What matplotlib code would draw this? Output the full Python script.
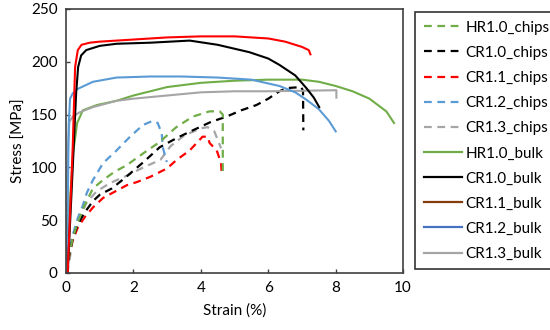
import matplotlib.pyplot as plt
from matplotlib.lines import Line2D

plt.rcParams['font.family'] = ['Lato', 'DejaVu Sans']

# chips (dashed)
hr10_chips_x = [0.0, 0.1, 0.2, 0.35, 0.55, 0.8, 1.1, 1.45, 1.8, 2.28, 2.78, 3.27, 3.76, 4.26, 4.56, 4.65, 4.65]
hr10_chips_y = [0, 18, 33, 48, 64, 80, 88, 96, 102, 113, 124, 138, 148, 153, 153, 150, 93]
cr10_chips_x = [0.0, 0.1, 0.2, 0.35, 0.55, 0.8, 1.0, 1.36, 1.75, 2.3, 2.78, 3.3, 3.76, 4.3, 4.76, 5.2, 5.65, 6.0, 6.33, 6.54, 6.98, 7.03, 7.04]
cr10_chips_y = [0, 18, 33, 46, 57, 68, 74, 80, 90, 105, 119, 128, 135, 143, 148, 154, 159, 165, 172, 175, 176, 172, 135]
cr11_chips_x = [0.0, 0.1, 0.2, 0.35, 0.56, 0.8, 1.1, 1.45, 1.8, 2.1, 2.5, 3.0, 3.28, 3.67, 4.05, 4.2, 4.26, 4.47, 4.6, 4.62]
cr11_chips_y = [0, 17, 31, 43, 53, 62, 71, 77, 83, 86, 91, 99, 107, 116, 129, 129, 123, 116, 104, 92]
cr12_chips_x = [0.0, 0.1, 0.2, 0.35, 0.5, 0.62, 0.8, 1.1, 1.5, 1.9, 2.28, 2.57, 2.72, 2.84, 2.87, 2.99]
cr12_chips_y = [0, 20, 36, 52, 64, 76, 88, 104, 116, 129, 140, 144, 142, 132, 119, 105]
cr13_chips_x = [0.0, 0.06, 0.18, 0.33, 0.47, 0.62, 0.9, 1.3, 1.8, 2.3, 2.8, 3.1, 3.5, 4.0, 4.2, 4.4, 4.6]
cr13_chips_y = [0, 3, 28, 43, 57, 67, 77, 85, 92, 100, 107, 120, 130, 137, 138, 134, 118]

# bulk (solid)
hr10_bulk_x = [0.0, 0.1, 0.21, 0.33, 0.5, 0.92, 1.5, 2.0, 2.5, 3.0, 3.5, 4.0, 5.0, 6.0, 7.0, 7.5, 8.0, 8.5, 9.0, 9.5, 9.73]
hr10_bulk_y = [0, 60, 113, 142, 154, 159, 163, 168, 172, 176, 178, 180, 182, 183, 183, 181, 177, 172, 165, 153, 142]
cr10_bulk_x = [0.05, 0.2, 0.3, 0.36, 0.45, 0.6, 1.0, 1.5, 2.5, 3.67, 4.5, 5.44, 6.0, 6.33, 6.8, 7.13, 7.35, 7.51]
cr10_bulk_y = [0, 100, 170, 195, 206, 211, 215, 217, 218, 220, 216, 209, 203, 197, 187, 175, 166, 157]
cr11_bulk_x = [0.05, 0.2, 0.27, 0.35, 0.46, 0.7, 1.0, 2.0, 3.0, 4.0, 5.0, 6.0, 6.5, 7.0, 7.2, 7.25]
cr11_bulk_y = [0, 120, 195, 211, 216, 218, 219, 221, 223, 224, 224, 222, 219, 214, 211, 207]
cr12_bulk_x = [0.03, 0.08, 0.12, 0.2, 0.33, 0.8, 1.5, 2.5, 3.4, 4.5, 5.5, 6.33, 6.8, 7.13, 7.5, 7.8, 8.0]
cr12_bulk_y = [0, 140, 165, 170, 174, 181, 185, 186, 186, 185, 183, 177, 171, 164, 155, 144, 134]
cr13_bulk_x = [0.02, 0.06, 0.1, 0.2, 0.4, 0.8, 1.5, 2.0, 3.0, 4.0, 5.0, 6.0, 7.0, 8.02, 8.02]
cr13_bulk_y = [0, 120, 143, 148, 152, 157, 163, 165, 168, 171, 172, 172, 172.5, 173, 166]

labels = ['HR1.0_chips', 'CR1.0_chips', 'CR1.1_chips', 'CR1.2_chips', 'CR1.3_chips',
          'HR1.0_bulk', 'CR1.0_bulk', 'CR1.1_bulk', 'CR1.2_bulk', 'CR1.3_bulk']

green = '#70AD47'
red = '#FF0000'
blue = '#5B9BD5'
grey = '#A5A5A5'

fig = plt.figure(figsize=(5.5, 3.3), dpi=100)
ax = fig.add_axes([0.12, 0.173, 0.613, 0.8])

dash = (0, (3.5, 2.5))
ax.plot(cr13_chips_x, cr13_chips_y, color=grey, lw=1.6, linestyle=dash)
ax.plot(cr12_chips_x, cr12_chips_y, color=blue, lw=1.6, linestyle=dash)
ax.plot(cr11_chips_x, cr11_chips_y, color=red, lw=1.6, linestyle=dash)
ax.plot(cr10_chips_x, cr10_chips_y, color='black', lw=1.6, linestyle=dash)
ax.plot(hr10_chips_x, hr10_chips_y, color=green, lw=1.6, linestyle=dash)

ax.plot(hr10_bulk_x, hr10_bulk_y, color=green, lw=1.5)
ax.plot(cr13_bulk_x, cr13_bulk_y, color=grey, lw=1.5)
ax.plot(cr12_bulk_x, cr12_bulk_y, color=blue, lw=1.5)
ax.plot(cr10_bulk_x, cr10_bulk_y, color='black', lw=1.5)
ax.plot(cr11_bulk_x, cr11_bulk_y, color=red, lw=1.5)

ax.set_xlim(0, 10)
ax.set_ylim(0, 250)
ax.set_xticks([0, 2, 4, 6, 8, 10])
ax.set_yticks([0, 50, 100, 150, 200, 250])
ax.tick_params(direction='in', length=3, width=1, colors='#404040', labelsize=11,
               labelcolor='black', pad=6)
for s in ax.spines.values():
    s.set_color('#404040')
    s.set_linewidth(1.2)
ax.set_xlabel('Strain (%)', fontsize=11, labelpad=6)
ax.set_ylabel('Stress [MPa]', fontsize=11)

# legend colours as they appear in the original legend
leg_colors = [green, 'black', red, blue, grey, green, 'black', '#843C0C', '#4472C4', grey]
handles = []
for i in range(10):
    ls = dash if i < 5 else '-'
    handles.append(Line2D([], [], color=leg_colors[i], lw=1.6, linestyle=ls))
leg = fig.legend(handles, labels, loc='upper left', bbox_to_anchor=(0.755, 0.963),
                 fontsize=11, frameon=True, fancybox=False, edgecolor='black',
                 handlelength=2.5, handletextpad=0.25, labelspacing=0.73,
                 borderpad=0.55, borderaxespad=0)
leg.get_frame().set_linewidth(1.2)

fig.savefig('out.png', dpi=100)
